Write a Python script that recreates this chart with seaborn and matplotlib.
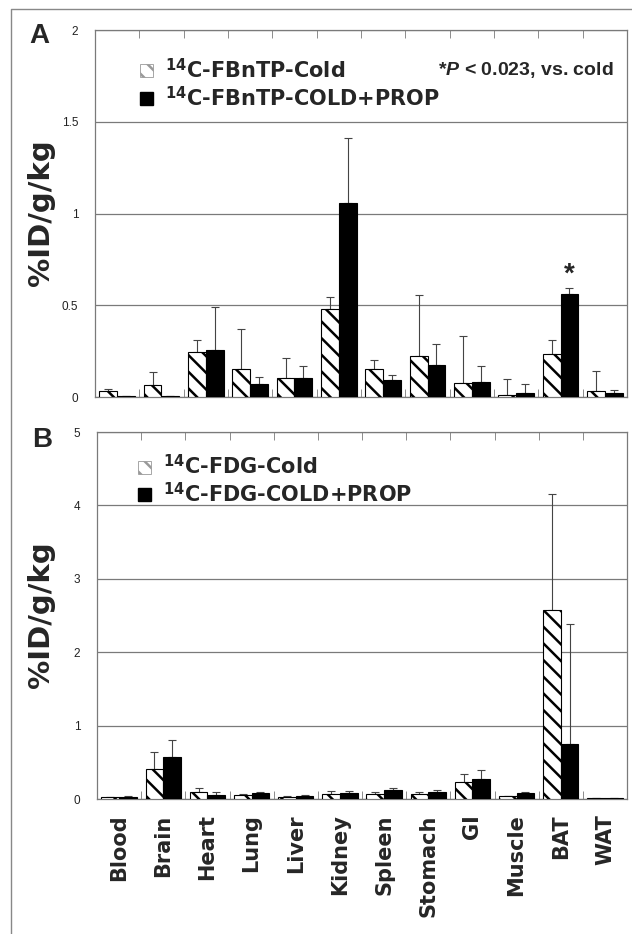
#--Import libraries--#
import numpy as np
import pandas as pd
import seaborn as sns
import matplotlib.pyplot as plt
from matplotlib.patches import Patch
from matplotlib.lines import Line2D
from matplotlib.ticker import FormatStrFormatter

#--Data--#
organs = ["Blood", "Brain", "Heart", "Lung", "Liver", "Kidney",
          "Spleen", "Stomach", "GI", "Muscle", "BAT", "WAT"]

# panel A: 14C-FBnTP (mean and upper error)
fbntp_cold = [0.033, 0.068, 0.245, 0.153, 0.104, 0.478, 0.153, 0.224, 0.075, 0.013, 0.235, 0.033]
fbntp_cold_err = [0.011, 0.067, 0.065, 0.217, 0.111, 0.069, 0.047, 0.334, 0.257, 0.084, 0.075, 0.107]
fbntp_prop = [0.005, 0.005, 0.254, 0.073, 0.104, 1.058, 0.095, 0.175, 0.082, 0.024, 0.564, 0.024]
fbntp_prop_err = [0.003, 0.003, 0.236, 0.037, 0.066, 0.352, 0.025, 0.113, 0.088, 0.049, 0.033, 0.012]

# panel B: 14C-FDG
fdg_cold = [0.025, 0.41, 0.09, 0.06, 0.03, 0.075, 0.07, 0.07, 0.23, 0.035, 2.57, 0.01]
fdg_cold_err = [0.008, 0.23, 0.055, 0.012, 0.006, 0.035, 0.03, 0.03, 0.11, 0.01, 1.59, 0.004]
fdg_prop = [0.03, 0.57, 0.055, 0.08, 0.045, 0.08, 0.12, 0.095, 0.27, 0.08, 0.75, 0.01]
fdg_prop_err = [0.008, 0.23, 0.045, 0.02, 0.01, 0.03, 0.03, 0.025, 0.12, 0.02, 1.64, 0.004]

labels_a = [r"$^{14}$C-FBnTP-Cold", r"$^{14}$C-FBnTP-COLD+PROP"]
labels_b = [r"$^{14}$C-FDG-Cold", r"$^{14}$C-FDG-COLD+PROP"]
yticks_a = [0, 0.5, 1, 1.5, 2]
yticks_b = [0, 1, 2, 3, 4, 5]
sig_organ = "BAT"

#--Style--#
sns.set_style("white")
plt.rcParams['font.family'] = ['Liberation Sans', 'DejaVu Sans']
plt.rcParams['mathtext.fontset'] = 'custom'
plt.rcParams['mathtext.rm'] = 'DejaVu Sans:bold'
plt.rcParams['mathtext.it'] = 'Liberation Sans:bold:italic'
plt.rcParams['mathtext.bf'] = 'DejaVu Sans:bold'
plt.rcParams['hatch.linewidth'] = 1.8
plt.rcParams['hatch.color'] = 'black'

GRID = '#7a7a7a'
BOLD = dict(family=['DejaVu Sans'], weight='bold')

fig = plt.figure(figsize=(6.32, 9.34), dpi=100)
ax_a = fig.add_axes([0.1503, 0.5749, 0.8418, 0.3929])
ax_b = fig.add_axes([0.1535, 0.1445, 0.8386, 0.3929])


def draw_panel(ax, cold, cold_err, prop, prop_err, labels, yticks):
    df = pd.DataFrame({
        'organ': organs * 2,
        'group': [labels[0]] * len(organs) + [labels[1]] * len(organs),
        'value': cold + prop,
    })
    sns.barplot(data=df, x='organ', y='value', hue='group', order=organs,
                palette=['white', 'black'], edgecolor='black', linewidth=0.8,
                width=0.8, errorbar=None, legend=False, ax=ax, zorder=3)
    # hatch the cold bars
    for bar in ax.containers[0]:
        bar.set_hatch('\\\\')
    # one-sided error bars
    for cont, err in zip(ax.containers[:2], [cold_err, prop_err]):
        xs = [b.get_x() + b.get_width() / 2 for b in cont]
        ys = [b.get_height() for b in cont]
        ax.errorbar(xs, ys, yerr=[np.zeros(len(err)), err], fmt='none',
                    ecolor='#444444', elinewidth=0.8, capsize=3, capthick=0.8, zorder=2)

    ax.set_xlim(-0.5, len(organs) - 0.5)
    ax.set_ylim(yticks[0], yticks[-1])
    ax.set_yticks(yticks)
    ax.yaxis.set_major_formatter(FormatStrFormatter('%g'))
    ax.yaxis.grid(True, color=GRID, lw=0.9)
    ax.set_axisbelow(True)
    for sp in ax.spines.values():
        sp.set_color(GRID)
        sp.set_linewidth(0.9)
    ax.set_xticks(np.arange(-0.5, len(organs), 1), minor=True)
    ax.tick_params(axis='x', which='major', length=0)
    ax.tick_params(axis='x', which='minor', direction='in', length=6,
                   top=True, bottom=True, color=GRID)
    ax.tick_params(axis='y', direction='in', length=4, pad=12, color=GRID,
                   labelsize=8.5, labelcolor='#222222')
    ax.set_xlabel('')
    ax.set_ylabel('')

    handles = [Patch(facecolor='white', edgecolor='#999999', hatch='\\\\', lw=0.6),
               Patch(facecolor='black', edgecolor='black')]
    return handles


h_a = draw_panel(ax_a, fbntp_cold, fbntp_cold_err, fbntp_prop, fbntp_prop_err, labels_a, yticks_a)
h_b = draw_panel(ax_b, fdg_cold, fdg_cold_err, fdg_prop, fdg_prop_err, labels_b, yticks_b)

ax_a.set_xticklabels([])
ax_b.set_xticklabels(organs, rotation=90, fontsize=15, **BOLD)
ax_b.tick_params(axis='x', which='major', pad=11)

legend_kw = dict(loc='upper left', frameon=False, borderpad=0, borderaxespad=0,
                 handlelength=0.6, handleheight=0.6, handletextpad=0.6, labelspacing=0.15,
                 prop=dict(family='DejaVu Sans', weight='bold', size=15))
ax_a.legend(h_a, labels_a, bbox_to_anchor=(0.085, 0.925), **legend_kw)
ax_b.legend(h_b, labels_b, bbox_to_anchor=(0.078, 0.94), **legend_kw)

# significance note and star
ax_a.text(0.974, 0.891, r"*$P$ < 0.023, vs. cold", transform=ax_a.transAxes,
          ha='right', va='center', fontsize=14, fontweight='bold')
i_sig = organs.index(sig_organ)
star_bar = ax_a.containers[1][i_sig]
ax_a.text(star_bar.get_x() + star_bar.get_width() / 2,
          fbntp_prop[i_sig] + fbntp_prop_err[i_sig], "*",
          ha='center', va='bottom', fontsize=20, fontweight='bold')

# y labels and panel letters
fig.text(41 / 632, 1 - 213 / 934, "%ID/g/kg", rotation=90, ha='center', va='center',
         fontsize=21, **BOLD)
fig.text(41 / 632, 1 - 615 / 934, "%ID/g/kg", rotation=90, ha='center', va='center',
         fontsize=21, **BOLD)
fig.text(39 / 632, 1 - 36 / 934, "A", ha='center', va='center', fontsize=20, fontweight='bold')
fig.text(42 / 632, 1 - 440 / 934, "B", ha='center', va='center', fontsize=20, fontweight='bold')

# outer frame (left and top edges)
fig.add_artist(Line2D([11 / 632, 11 / 632, 1], [0, 1 - 9 / 934, 1 - 9 / 934],
                      transform=fig.transFigure, color='#888888', lw=1))

fig.savefig('out.png', dpi=100)
